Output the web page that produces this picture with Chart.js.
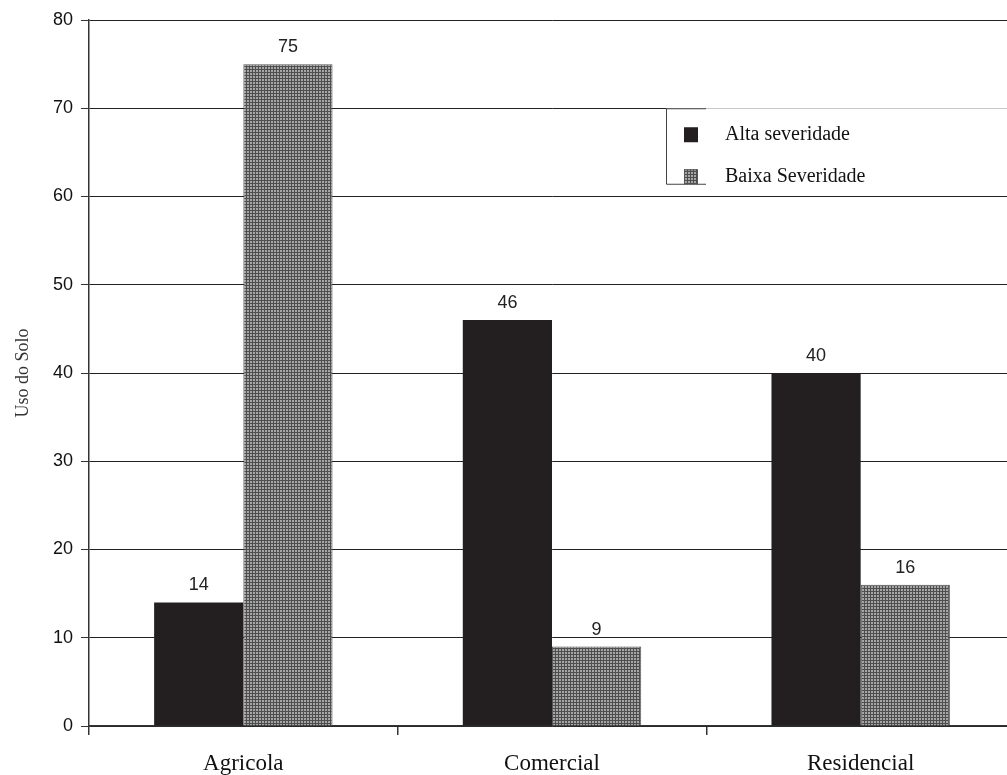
<!DOCTYPE html>
<html lang="pt">
<head>
    <meta charset="UTF-8">
    <title>Uso do Solo</title>
    <script src="https://cdn.jsdelivr.net/npm/chart.js"></script>
    <style>
        html, body { margin: 0; padding: 0; background: white; overflow: hidden; }
        #wrap { width: 1020px; height: 775px; }
    </style>
</head>
<body>
<div id="wrap"><canvas id="chart"></canvas></div>
<script>
// dados
const categorias = ['Agricola', 'Comercial', 'Residencial'];
const altaSeveridade = [14, 46, 40];
const baixaSeveridade = [75, 9, 16];
const serieNomes = ['Alta severidade', 'Baixa Severidade'];
const yTicks = [0, 10, 20, 30, 40, 50, 60, 70, 80];

// padrao xadrez cinza da segunda serie
function makePattern() {
    const c = document.createElement('canvas');
    c.width = 3; c.height = 3;
    const g = c.getContext('2d');
    g.fillStyle = '#a6a6a6';
    g.fillRect(0, 0, 3, 3);
    g.fillStyle = '#4e4e4e';
    g.fillRect(0, 0, 3, 1);
    g.fillRect(0, 0, 1, 3);
    return g.createPattern(c, 'repeat');
}

const ctx = document.getElementById('chart').getContext('2d');
const cinza = makePattern();

// rotulos de valor sobre as barras
const valueLabels = {
    id: 'valueLabels',
    afterDatasetsDraw(chart) {
        const c = chart.ctx;
        c.save();
        c.font = '18px "Liberation Sans", Arial, sans-serif';
        c.fillStyle = '#222';
        c.textAlign = 'center';
        c.textBaseline = 'middle';
        chart.data.datasets.forEach((ds, i) => {
            chart.getDatasetMeta(i).data.forEach((bar, j) => {
                c.fillText(ds.data[j], bar.x, bar.y - 17);
            });
        });
        c.restore();
    }
};

// legenda em caixa dentro da area do grafico
const boxLegend = {
    id: 'boxLegend',
    afterDraw(chart) {
        const c = chart.ctx;
        const y = chart.scales.y;
        const top = y.getPixelForValue(70);
        const x0 = 666, w = 400, h = 76;
        c.save();
        c.fillStyle = 'white';
        c.fillRect(x0, top, w, h);
        c.strokeStyle = '#444';
        c.lineWidth = 1;
        c.beginPath();
        c.moveTo(x0 + 0.5, top);
        c.lineTo(x0 + 0.5, top + h);
        c.lineTo(x0 + 40, top + h);
        c.moveTo(x0, top + 0.5);
        c.lineTo(x0 + 40, top + 0.5);
        c.stroke();
        c.font = '20px "Liberation Serif", "Times New Roman", serif';
        c.textBaseline = 'middle';
        chart.data.datasets.forEach((ds, i) => {
            const cy = top + 26 + i * 42;
            c.fillStyle = ds.backgroundColor;
            c.fillRect(x0 + 18, cy - 7, 14, 15);
            if (i === 1) {
                c.strokeStyle = '#555';
                c.strokeRect(x0 + 18.5, cy - 6.5, 13, 14);
            }
            c.fillStyle = '#111';
            c.fillText(ds.label, x0 + 59, cy);
        });
        c.restore();
    }
};

new Chart(ctx, {
    type: 'bar',
    data: {
        labels: categorias,
        datasets: [
            {
                label: serieNomes[0],
                data: altaSeveridade,
                backgroundColor: '#231f20',
                borderWidth: 0
            },
            {
                label: serieNomes[1],
                data: baixaSeveridade,
                backgroundColor: cinza,
                borderColor: '#555',
                borderWidth: 1
            }
        ]
    },
    options: {
        responsive: true,
        maintainAspectRatio: false,
        animation: false,
        layout: { padding: { top: 20, right: 5, left: 0, bottom: 0 } },
        datasets: {
            bar: { categoryPercentage: 0.578, barPercentage: 1.0 }
        },
        plugins: {
            legend: { display: false },
            tooltip: { enabled: false }
        },
        scales: {
            x: {
                offset: true,
                grid: {
                    drawOnChartArea: false,
                    drawTicks: true,
                    tickLength: 9,
                    color: '#333',
                    lineWidth: 1.5
                },
                border: { color: '#333', width: 1.5 },
                ticks: {
                    color: '#111',
                    padding: 15,
                    font: { family: '"Liberation Serif", "Times New Roman", serif', size: 23 }
                },
                afterFit(scale) { scale.height = 775 - 726; }
            },
            y: {
                min: 0,
                max: 80,
                afterBuildTicks(scale) {
                    scale.ticks = yTicks.map(v => ({ value: v }));
                },
                grid: {
                    color: '#222',
                    lineWidth: 1,
                    tickLength: 8,
                    tickColor: '#333'
                },
                border: { color: '#333', width: 1.5 },
                ticks: {
                    color: '#111',
                    padding: 8,
                    font: { family: '"Liberation Sans", Arial, sans-serif', size: 18 }
                },
                title: {
                    display: true,
                    text: 'Uso do Solo',
                    color: '#333',
                    padding: { top: 12, bottom: 0 },
                    font: { family: '"Liberation Serif", "Times New Roman", serif', size: 18 }
                },
                afterFit(scale) { scale.width = 89; }
            }
        }
    },
    plugins: [valueLabels, boxLegend]
});
</script>
</body>
</html>
